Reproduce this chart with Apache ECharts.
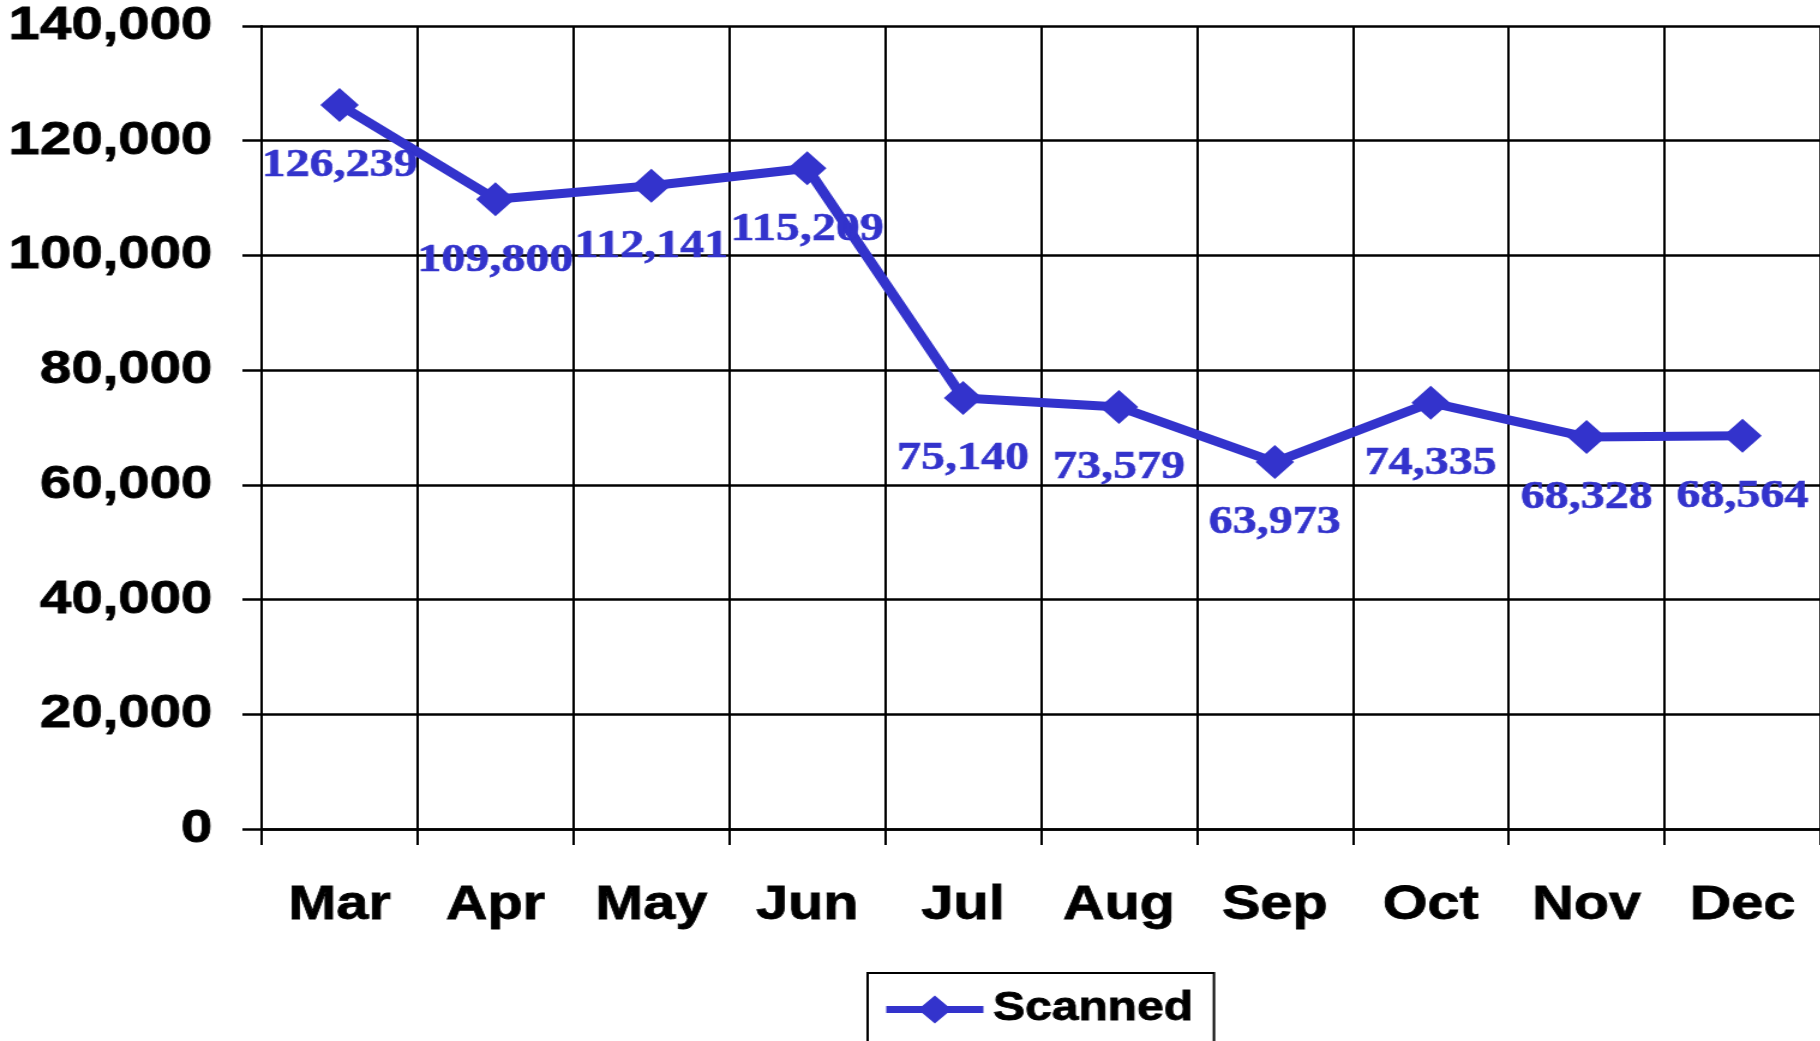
<!DOCTYPE html>
<html>
<head>
<meta charset="utf-8">
<script src="https://cdn.jsdelivr.net/npm/echarts@6/dist/echarts.min.js"></script>
<style>
  html, body { margin: 0; padding: 0; background: #fff; overflow: hidden; }
  /* the source picture is stretched sideways, so draw narrower and stretch */
  #chart { width: 1517px; height: 1041px; transform: scaleX(1.2); transform-origin: 0 0; }
</style>
</head>
<body>
<div id="chart"></div>
<script>
const months = ['Mar', 'Apr', 'May', 'Jun', 'Jul', 'Aug', 'Sep', 'Oct', 'Nov', 'Dec']
const scanned = [126239, 109800, 112141, 115209, 75140, 73579, 63973, 74335, 68328, 68564]

const blue = '#3333CC'
const fmt = v => Number(v).toLocaleString('en-US')

const chart = echarts.init(document.getElementById('chart'))
chart.setOption({
  animation: false,
  backgroundColor: '#fff',
  grid: { left: 218, top: 26, width: 1303, height: 803 },
  legend: {
    data: ['Scanned'],
    left: 723,
    top: 973,
    borderColor: '#000',
    borderWidth: 2,
    padding: [16, 17, 16, 12],
    itemWidth: 81,
    itemHeight: 35,
    lineStyle: { width: 7 },
    textStyle: {
      fontFamily: 'Liberation Sans', fontWeight: 'bold', fontSize: 40, color: '#000',
      textBorderColor: '#000', textBorderWidth: 0.8, padding: [0, 0, 0, 3]
    }
  },
  xAxis: {
    type: 'category',
    data: months,
    boundaryGap: true,
    axisLine: { lineStyle: { color: '#000', width: 2.5 } },
    axisTick: { show: true, length: 16, lineStyle: { color: '#000', width: 2 } },
    splitLine: { show: true, lineStyle: { color: '#000', width: 2 } },
    axisLabel: {
      fontFamily: 'Liberation Sans', fontWeight: 'bold', fontSize: 48, color: '#000', margin: 53,
      textBorderColor: '#000', textBorderWidth: 0.8
    }
  },
  yAxis: {
    type: 'value',
    min: 0,
    max: 140000,
    interval: 20000,
    axisLine: { show: true, lineStyle: { color: '#000', width: 2 } },
    axisTick: { show: true, length: 16, lineStyle: { color: '#000', width: 2.5 } },
    splitLine: { show: true, lineStyle: { color: '#000', width: 2.5 } },
    axisLabel: {
      fontFamily: 'Liberation Sans', fontWeight: 'bold', fontSize: 47, color: '#000', margin: 41,
      textBorderColor: '#000', textBorderWidth: 0.8, padding: [11, 0, 0, 0], formatter: fmt
    }
  },
  series: [{
    name: 'Scanned',
    type: 'line',
    data: scanned,
    symbol: 'diamond',
    symbolSize: [32, 34],
    itemStyle: { color: blue },
    lineStyle: { color: blue, width: 9 },
    label: {
      show: true,
      position: 'inside',
      offset: [0, 61],
      fontFamily: 'Liberation Serif',
      fontWeight: 'bold',
      fontSize: 40,
      color: blue,
      textBorderColor: blue,
      textBorderWidth: 0.6,
      formatter: p => fmt(p.value)
    }
  }]
})
</script>
</body>
</html>
